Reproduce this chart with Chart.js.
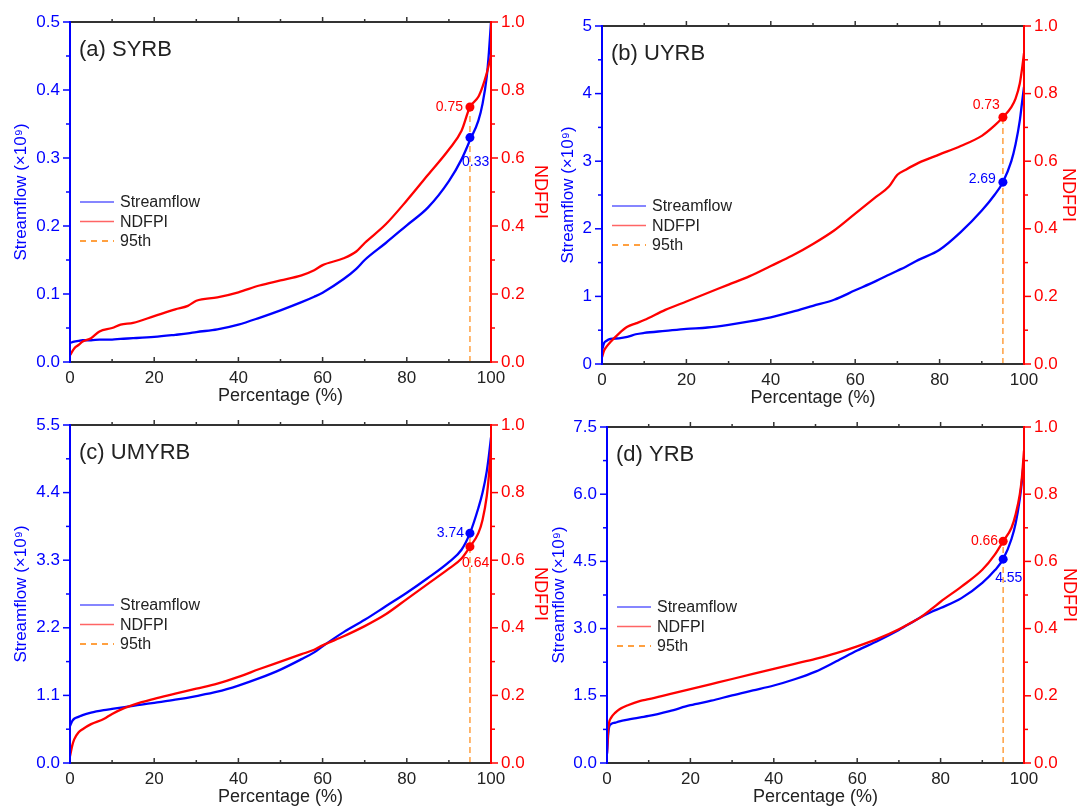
<!DOCTYPE html>
<html><head><meta charset="utf-8">
<script src="https://cdn.jsdelivr.net/npm/chart.js@4.4.1/dist/chart.umd.min.js"></script>
<style>
html,body{margin:0;padding:0;background:#fff;width:1080px;height:806px;overflow:hidden;position:relative}
canvas{position:absolute}
</style></head><body>
<canvas id="ca"></canvas>
<canvas id="cb"></canvas>
<canvas id="cc"></canvas>
<canvas id="cd"></canvas>
<script>
// ---------------- DATA ----------------
const panelNames = ['(a) SYRB', '(b) UYRB', '(c) UMYRB', '(d) YRB'];

const pctA   = [0,1,2,3,5,7,10,12,15,20,25,28,30,35,40,45,50,55,58,60,65,68,70,75,80,85,90,93,95,97,98,99,99.5,100];
const flowA  = [0.028,0.030,0.031,0.032,0.032,0.033,0.033,0.034,0.035,0.037,0.040,0.042,0.044,0.048,0.055,0.065,0.076,0.088,0.096,0.102,0.122,0.137,0.150,0.175,0.201,0.227,0.266,0.298,0.326,0.355,0.380,0.420,0.455,0.500];
const ndfpiA = [0.02,0.04,0.05,0.06,0.07,0.09,0.10,0.11,0.115,0.135,0.155,0.165,0.18,0.19,0.205,0.225,0.24,0.255,0.27,0.285,0.305,0.325,0.35,0.405,0.475,0.55,0.625,0.68,0.75,0.78,0.81,0.85,0.875,0.90];

const pctB   = [0,0.5,1,2,4,6,8,10,15,20,25,30,35,40,45,50,55,60,65,68,70,72,75,80,85,90,93,95,97,98,99,99.5,100];
const flowB  = [0.2,0.31,0.34,0.37,0.38,0.40,0.44,0.46,0.49,0.52,0.54,0.58,0.63,0.69,0.77,0.86,0.95,1.09,1.23,1.32,1.38,1.44,1.54,1.69,1.95,2.27,2.50,2.69,3.0,3.25,3.6,3.85,4.1];
const ndfpiB = [0.02,0.04,0.05,0.065,0.09,0.11,0.12,0.13,0.16,0.185,0.21,0.235,0.26,0.29,0.32,0.355,0.395,0.445,0.495,0.525,0.56,0.575,0.595,0.62,0.645,0.675,0.705,0.73,0.76,0.785,0.83,0.87,0.92];

const pctC   = [0,0.5,1,2,3,5,8,10,13,15,17,20,25,30,35,40,45,50,55,58,60,65,70,75,80,85,90,93,95,97,98,99,99.5,100];
const flowC  = [0.6,0.68,0.72,0.75,0.78,0.82,0.86,0.88,0.91,0.93,0.95,0.98,1.03,1.09,1.16,1.26,1.38,1.52,1.69,1.80,1.90,2.13,2.33,2.55,2.77,3.01,3.27,3.47,3.74,4.15,4.4,4.75,5.0,5.3];
const ndfpiC = [0.02,0.05,0.07,0.09,0.10,0.115,0.13,0.145,0.163,0.172,0.18,0.19,0.205,0.22,0.235,0.255,0.278,0.30,0.322,0.335,0.348,0.375,0.405,0.44,0.485,0.53,0.575,0.605,0.64,0.68,0.72,0.79,0.85,0.93];

const pctD   = [0,0.3,0.5,1,2,3,5,8,10,15,20,25,30,35,40,45,50,55,60,65,70,73,75,78,80,85,90,93,95,97,98,99,99.5,100];
const flowD  = [0.2,0.65,0.8,0.87,0.9,0.93,0.97,1.02,1.05,1.16,1.29,1.39,1.51,1.62,1.73,1.87,2.04,2.27,2.51,2.73,2.97,3.13,3.24,3.38,3.46,3.68,4.02,4.30,4.55,5.0,5.35,5.9,6.3,6.8];
const ndfpiD = [0.03,0.1,0.12,0.135,0.15,0.16,0.172,0.185,0.19,0.205,0.22,0.235,0.25,0.265,0.28,0.295,0.31,0.327,0.347,0.37,0.398,0.418,0.432,0.46,0.48,0.525,0.575,0.62,0.66,0.70,0.74,0.80,0.85,0.93];

const p95 = 95;
const p95Flow  = [0.33, 2.69, 3.74, 4.55];
const p95Ndfpi = [0.75, 0.73, 0.64, 0.66];

const flowTicksA = [0, 0.1, 0.2, 0.3, 0.4, 0.5];
const flowTicksB = [0, 1, 2, 3, 4, 5];
const flowTicksC = [0, 1.1, 2.2, 3.3, 4.4, 5.5];
const flowTicksD = [0, 1.5, 3.0, 4.5, 6.0, 7.5];
const flowDigits = [1, 0, 1, 1];
const ndfpiTicks = [0, 0.2, 0.4, 0.6, 0.8, 1.0];
const pctTicks   = [0, 20, 40, 60, 80, 100];

const pcts   = [pctA, pctB, pctC, pctD];
const flows  = [flowA, flowB, flowC, flowD];
const ndfpis = [ndfpiA, ndfpiB, ndfpiC, ndfpiD];
const flowTicks = [flowTicksA, flowTicksB, flowTicksC, flowTicksD];

// ---------------- LAYOUT / STYLE ----------------
const BLUE = '#0000ff', RED = '#ff0000', ORANGE = '#ffa040', INK = '#222222';
const FONT = '"Liberation Sans", Arial, Helvetica, sans-serif';
const layouts = [
  {id:'ca', left:0,   top:0,   w:556, h:407, area:{l:70,  r:491,  t:22,  b:362}, yT:21,  y2T:540},
  {id:'cb', left:546, top:0,   w:534, h:409, area:{l:602, r:1024, t:26,  b:364}, yT:568, y2T:1068},
  {id:'cc', left:0,   top:400, w:556, h:408, area:{l:70,  r:491,  t:425, b:763}, yT:21,  y2T:540},
  {id:'cd', left:540, top:400, w:540, h:408, area:{l:607, r:1024, t:427, b:763}, yT:559, y2T:1069},
];
const labelStyle = [
  {flow:{align:'left', dx:-8, dy:25},  ndfpi:{align:'right', dx:-7, dy:0}},
  {flow:{align:'right', dx:-7, dy:-3}, ndfpi:{align:'right', dx:-3, dy:-12}},
  {flow:{align:'right', dx:-6, dy:0},  ndfpi:{align:'left', dx:-8, dy:16}},
  {flow:{align:'left', dx:-8, dy:19},  ndfpi:{align:'right', dx:-5, dy:0}},
];

function tickLine(ctx, x1, y1, x2, y2) {
  ctx.beginPath(); ctx.moveTo(x1, y1); ctx.lineTo(x2, y2); ctx.stroke();
}

const decor = {
  id: 'decor',
  afterDraw(chart, args, o) {
    const ctx = chart.ctx;
    const {left: L, right: R, top: T, bottom: B} = chart.chartArea;
    const sx = chart.scales.x, sy = chart.scales.y, sy2 = chart.scales.y2;
    ctx.save();
    // frame
    ctx.lineWidth = 2;
    ctx.strokeStyle = '#333333';
    tickLine(ctx, L - 1, B, R + 1, B);
    tickLine(ctx, L - 1, T, R + 1, T);
    ctx.strokeStyle = BLUE; tickLine(ctx, L, T - 1, L, B + 1);
    ctx.strokeStyle = RED;  tickLine(ctx, R, T - 1, R, B + 1);
    // x ticks (every 10, pointing up)
    ctx.strokeStyle = '#333333'; ctx.lineWidth = 1.5;
    for (let v = 10; v < 100; v += 10) {
      const x = sx.getPixelForValue(v);
      const len = v % 20 === 0 ? 5 : 3;
      tickLine(ctx, x, B, x, B - len);
      tickLine(ctx, x, T, x, T - len);
    }
    // y ticks (outward, majors + minors)
    const ft = o.flowTicks;
    ctx.strokeStyle = BLUE;
    for (let i = 0; i < ft.length; i++) {
      const y = sy.getPixelForValue(ft[i]);
      tickLine(ctx, L, y, L - 7, y);
      if (i < ft.length - 1) {
        const ym = (y + sy.getPixelForValue(ft[i + 1])) / 2;
        tickLine(ctx, L, ym, L - 4, ym);
      }
    }
    ctx.strokeStyle = RED;
    for (let i = 0; i < ndfpiTicks.length; i++) {
      const y = sy2.getPixelForValue(ndfpiTicks[i]);
      tickLine(ctx, R, y, R + 7, y);
      if (i < ndfpiTicks.length - 1) {
        const ym = (y + sy2.getPixelForValue(ndfpiTicks[i + 1])) / 2;
        tickLine(ctx, R, ym, R + 4, ym);
      }
    }
    // panel title
    ctx.fillStyle = INK;
    ctx.font = '22px ' + FONT;
    ctx.textAlign = 'left'; ctx.textBaseline = 'middle';
    ctx.fillText(o.name, L + 9, T + 28);
    // legend
    const items = [
      {t:'Streamflow', c:'rgba(40,40,255,0.75)', dash:[]},
      {t:'NDFPI', c:'rgba(255,50,50,0.75)', dash:[]},
      {t:'95th', c:ORANGE, dash:[6,5]},
    ];
    ctx.font = '16px ' + FONT;
    items.forEach((it, i) => {
      const y = T + 180 + i * 19.5;
      ctx.strokeStyle = it.c; ctx.lineWidth = it.dash.length ? 2 : 1.5;
      ctx.setLineDash(it.dash);
      tickLine(ctx, L + 10, y, L + 44, y);
      ctx.setLineDash([]);
      ctx.fillStyle = INK;
      ctx.fillText(it.t, L + 50, y + 1);
    });
    // value labels at 95th dots
    ctx.font = '14px ' + FONT;
    const st = o.labelStyle;
    [[3, 'flow', BLUE], [4, 'ndfpi', RED]].forEach(([di, key, col]) => {
      const pt = chart.getDatasetMeta(di).data[0];
      const val = chart.data.datasets[di].data[0].y;
      const s = st[key];
      ctx.fillStyle = col;
      ctx.textAlign = s.align;
      ctx.fillText(val.toFixed(2), pt.x + s.dx, pt.y + s.dy);
    });
    ctx.restore();
  }
};

function makePanel(i) {
  const lay = layouts[i];
  const cv = document.getElementById(lay.id);
  cv.width = lay.w; cv.height = lay.h;
  cv.style.left = lay.left + 'px'; cv.style.top = lay.top + 'px';
  cv.style.width = lay.w + 'px'; cv.style.height = lay.h + 'px';
  const a = lay.area;
  const leftW = a.l - lay.left, rightW = lay.left + lay.w - a.r;
  const topPad = a.t - lay.top, bottomH = lay.top + lay.h - a.b;
  const yTitlePad = lay.yT - lay.left - 17 * 1.2 / 2;
  const y2TitlePad = lay.left + lay.w - lay.y2T - 18 * 1.2 / 2;

  const ft = flowTicks[i];
  const fMax = ft[ft.length - 1];
  const pts = (xs, ys) => xs.map((x, k) => ({x: x, y: ys[k]}));
  const ndfpiHigher = p95Ndfpi[i] / 1.0 >= p95Flow[i] / fMax;

  new Chart(cv, {
    type: 'line',
    data: {
      datasets: [
        {label:'Streamflow', data: pts(pcts[i], flows[i]), yAxisID:'y', borderColor:BLUE, borderWidth:2.3,
         pointRadius:0, cubicInterpolationMode:'monotone', fill:false, order:3},
        {label:'NDFPI', data: pts(pcts[i], ndfpis[i]), yAxisID:'y2', borderColor:RED, borderWidth:2.3,
         pointRadius:0, cubicInterpolationMode:'monotone', fill:false, order:2},
        {label:'95th', data: ndfpiHigher ? [{x:p95, y:0}, {x:p95, y:p95Ndfpi[i]}] : [{x:p95, y:0}, {x:p95, y:p95Flow[i]}],
         yAxisID: ndfpiHigher ? 'y2' : 'y', borderColor:ORANGE, borderWidth:1.5, borderDash:[6,4], pointRadius:0, fill:false, order:4},
        {type:'scatter', label:'flow95', data:[{x:p95, y:p95Flow[i]}], yAxisID:'y', pointRadius:4.5,
         backgroundColor:BLUE, borderWidth:0, order:1},
        {type:'scatter', label:'ndfpi95', data:[{x:p95, y:p95Ndfpi[i]}], yAxisID:'y2', pointRadius:4.5,
         backgroundColor:RED, borderWidth:0, order:0},
      ]
    },
    options: {
      responsive:false, animation:false, devicePixelRatio:1,
      layout:{padding:{top:topPad, left:0, right:0, bottom:0}},
      plugins:{legend:{display:false}, tooltip:{enabled:false},
        decor:{name:panelNames[i], flowTicks:ft, labelStyle:labelStyle[i]}},
      scales:{
        x:{type:'linear', position:'bottom', min:0, max:100,
          afterBuildTicks: s => { s.ticks = pctTicks.map(v => ({value:v})); },
          ticks:{color:INK, font:{size:17, family:FONT}, padding:6, maxRotation:0, autoSkip:false, callback: v => String(v)},
          grid:{display:false, drawTicks:false}, border:{display:false},
          title:{display:true, text:'Percentage (%)', color:INK, font:{size:18, family:FONT}, padding:{top:0, bottom:0}},
          afterFit: s => { s.height = bottomH; }},
        y:{type:'linear', position:'left', min:0, max:fMax,
          afterBuildTicks: s => { s.ticks = ft.map(v => ({value:v})); },
          ticks:{color:BLUE, font:{size:17, family:FONT}, padding:10, autoSkip:false,
            callback: v => Number(v).toFixed(flowDigits[i])},
          grid:{display:false, drawTicks:false}, border:{display:false},
          title:{display:true, text:'Streamflow (×10⁹)', color:BLUE, font:{size:17, family:FONT}, padding:{top:yTitlePad, bottom:0}},
          afterFit: s => { s.width = leftW; }},
        y2:{type:'linear', position:'right', min:0, max:1,
          afterBuildTicks: s => { s.ticks = ndfpiTicks.map(v => ({value:v})); },
          ticks:{color:RED, font:{size:17, family:FONT}, padding:10, autoSkip:false,
            callback: v => Number(v).toFixed(1)},
          grid:{display:false, drawTicks:false}, border:{display:false},
          title:{display:true, text:'NDFPI', color:RED, font:{size:18, family:FONT}, padding:{top:y2TitlePad, bottom:0}},
          afterFit: s => { s.width = rightW; }},
      }
    },
    plugins:[decor]
  });
}
for (let i = 0; i < 4; i++) makePanel(i);
</script>
</body></html>
